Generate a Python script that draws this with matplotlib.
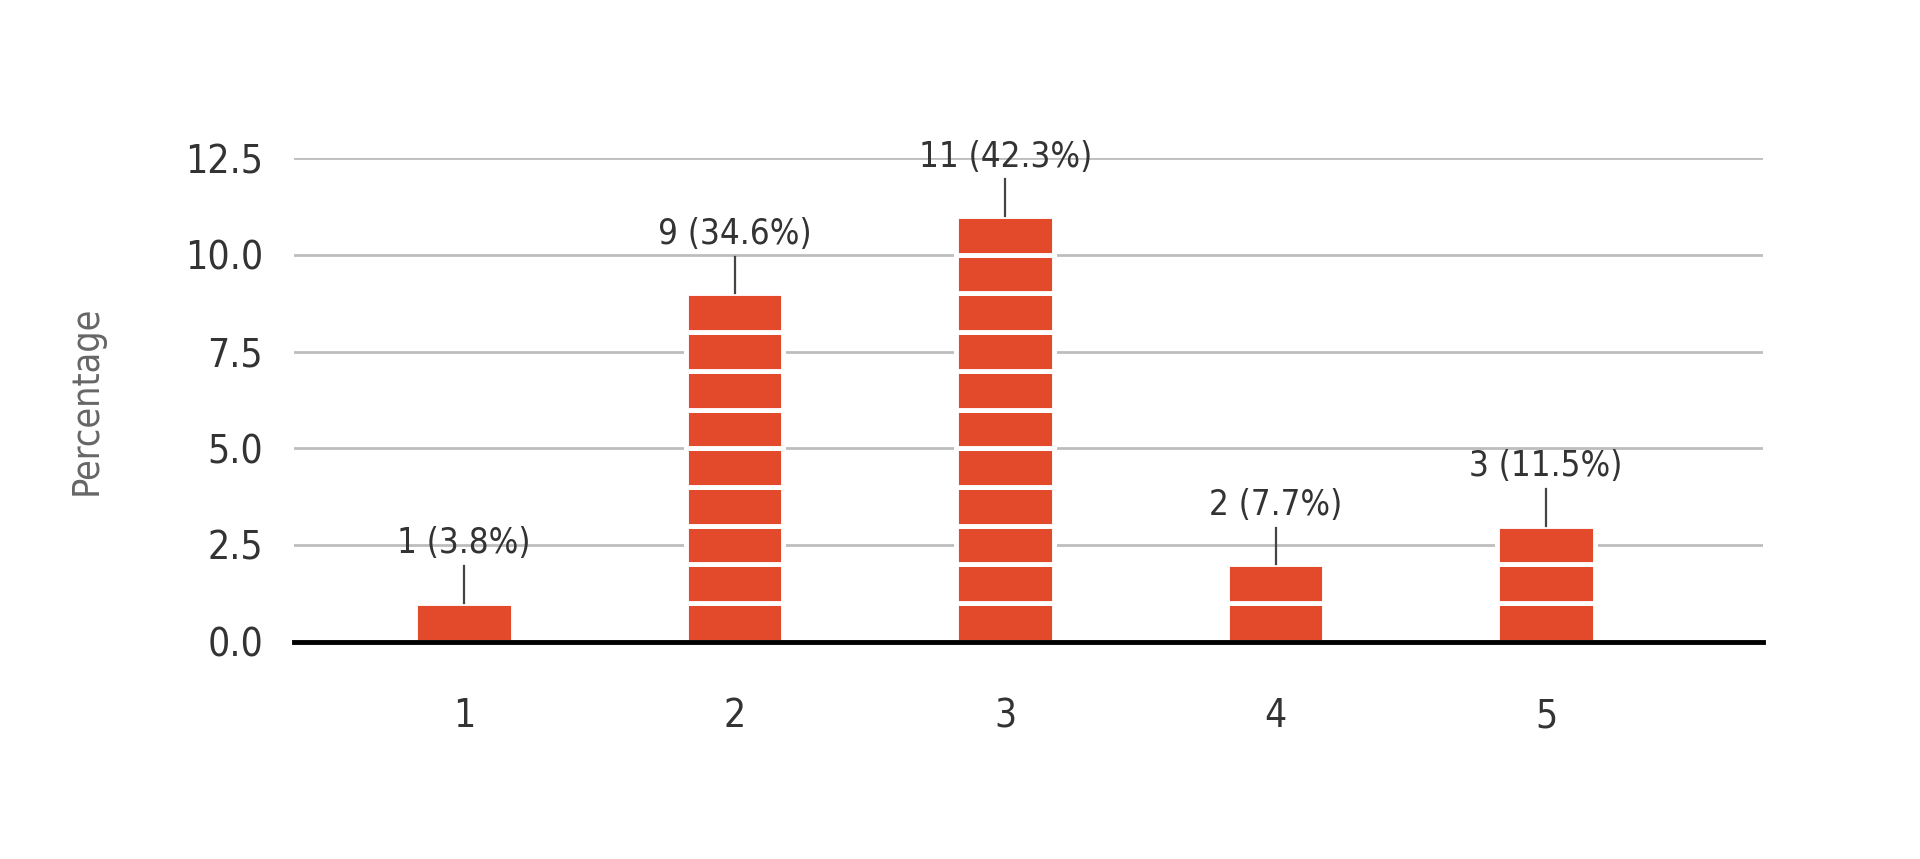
import matplotlib
matplotlib.use("Agg")
import matplotlib.pyplot as plt
from matplotlib import font_manager

# chart values
ratings = ["1", "2", "3", "4", "5"]
counts = [1, 9, 11, 2, 3]
labels = ["1 (3.8%)", "9 (34.6%)", "11 (42.3%)", "2 (7.7%)", "3 (11.5%)"]
yticks = [0.0, 2.5, 5.0, 7.5, 10.0, 12.5]

bar_color = "#e24a2b"
text_color = "#333333"

# pick a narrow face if one is around
names = {f.name for f in font_manager.fontManager.ttflist}
narrow = [n for n in ["Liberation Sans Narrow", "DejaVu Sans Condensed"] if n in names]
plt.rcParams["font.family"] = narrow + ["DejaVu Sans"]
plt.rcParams["font.stretch"] = "condensed"

fig = plt.figure(figsize=(19.2, 8.59), dpi=100)
ax = fig.add_axes([0.153, 0.253, 0.765, 0.563])

x = list(range(1, len(ratings) + 1))

# each bar is a stack of unit blocks, separated by thin white gaps
for xi, c in zip(x, counts):
    ax.bar([xi] * c, [1] * c, bottom=list(range(c)), width=0.36,
           color=bar_color, edgecolor="white", linewidth=3.5, zorder=3)

# leader lines and value labels
for xi, c, lab in zip(x, counts, labels):
    ax.plot([xi, xi], [c, c + 0.95], color="#444444", lw=1.6, zorder=4,
            clip_on=False)
    ax.text(xi, c + 1.1, lab, ha="center", va="bottom", fontsize=25,
            color=text_color, clip_on=False)

ax.set_xlim(0.37, 5.8)
ax.set_ylim(0, 12.5)
ax.set_xticks(x)
ax.set_xticklabels(ratings)
ax.set_yticks(yticks)
ax.set_yticklabels([f"{v:.1f}" for v in yticks])

ax.grid(axis="y", color="#bdbdbd", lw=2)
ax.set_axisbelow(True)
ax.axhline(0, color="black", lw=3.5, zorder=5, clip_on=False)
for s in ax.spines.values():
    s.set_visible(False)
ax.tick_params(length=0, labelsize=28, colors=text_color)
ax.tick_params(axis="x", pad=40)
ax.tick_params(axis="y", pad=22)

ax.set_ylabel("Percentage", fontsize=27, color="#666666", labelpad=58)

fig.savefig("out.png", dpi=100, facecolor="white")
